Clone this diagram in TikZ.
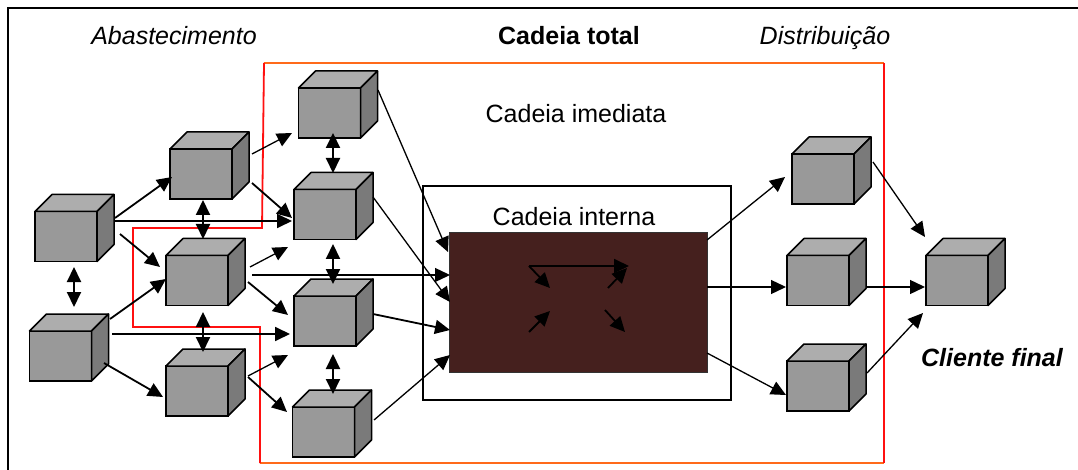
\documentclass[tikz,border=0pt]{standalone}
\usepackage{fontspec}
\setmainfont{Liberation Sans}
\usetikzlibrary{arrows.meta}

\definecolor{cubefront}{HTML}{999999}
\definecolor{cubetop}{HTML}{ADADAD}
\definecolor{cubeside}{HTML}{7A7A7A}
\definecolor{coreBrown}{HTML}{45201E}
\definecolor{totalRed}{HTML}{FF1010}
\definecolor{totalOrange}{HTML}{FF6A1A}

\tikzset{
  cube/.style={rectangle, draw=black, line width=1.5pt, fill=cubefront,
    minimum width=62pt, minimum height=50pt, inner sep=0pt, outer sep=0pt},
  face/.style={draw=black, line width=1.5pt, line join=round},
  tip/.tip={Triangle[length=15pt,width=14pt]},
  arr/.style={line width=1.8pt, -tip},
  tarr/.style={line width=1.3pt, -tip},
  darr/.style={line width=2pt, tip-tip},
  lbl/.style={anchor=base, inner sep=0pt, font=\fontsize{25}{30}\selectfont},
}

\begin{document}
\begin{tikzpicture}[x=1pt,y=-1pt]
\useasboundingbox (0,0) rectangle (1078,470);

% frame (top and left edges)
\draw[line width=1.5pt] (8,470) -- (8,8) -- (1078,8);

% headings
\node[lbl, font=\fontsize{25}{30}\selectfont\itshape] (tAbast) at (174,45) {Abastecimento};
\node[lbl, font=\fontsize{25}{30}\selectfont\bfseries] (tTotal) at (569,45) {Cadeia total};
\node[lbl, font=\fontsize{25}{30}\selectfont\itshape] (tDist) at (825,45) {Distribuição};
\node[lbl] (tImed) at (576,123) {Cadeia imediata};
\node[lbl, font=\fontsize{25}{30}\selectfont\bfseries\itshape] (tCliente) at (992,366) {Cliente final};

% outline of the total chain
\draw[totalOrange, line width=1.8pt] (264,63) -- (884,63);
\draw[totalOrange, line width=1.8pt] (260,463) -- (884,463);
\draw[totalRed, line width=1.8pt, line join=miter]
  (264,63) -- (262,228) -- (133,228) -- (133,327) -- (260,327) -- (260,463);
\draw[totalRed, line width=1.8pt] (884,63) -- (884,463);

% internal chain box
\draw[line width=1.5pt, fill=white] (423,186) rectangle (731,400);
\node[lbl] (tInt) at (574,226) {Cadeia interna};
\node[rectangle, fill=coreBrown, draw=black!80, line width=1pt,
      minimum width=258pt, minimum height=139pt, inner sep=0pt, outer sep=0pt]
      (core) at (578,302.5) {};

% cubes (front faces)
\node[cube] (A) at (66,236.5) {};
\node[cube] (B) at (60.5,356) {};
\node[cube] (C) at (201,174) {};
\node[cube] (D) at (197,280.5) {};
\node[cube] (E) at (197,391) {};
\node[cube] (F) at (329.5,113) {};
\node[cube] (G) at (325,214.5) {};
\node[cube] (H) at (325,321) {};
\node[cube] (I) at (323.5,432) {};
\node[cube] (J) at (823,179) {};
\node[cube] (K) at (818,280.5) {};
\node[cube] (L) at (818,386) {};
\node[cube] (M) at (957,280.5) {};

% cube top and side faces
\foreach \n in {A,B,C,D,E,F,G,H,I,J,K,L,M} {
  \filldraw[face, fill=cubetop] (\n.north west) -- ([shift={(17,-17)}]\n.north west)
    -- ([shift={(17,-17)}]\n.north east) -- (\n.north east) -- cycle;
  \filldraw[face, fill=cubeside] (\n.north east) -- ([shift={(17,-17)}]\n.north east)
    -- ([shift={(17,-17)}]\n.south east) -- (\n.south east) -- cycle;
}

% supply side links
\draw[arr] ([shift={(49,-18.5)}]A.center) -- ([shift={(-29,3)}]C.center);
\draw[arr] ([shift={(49,-15.5)}]A.center) -- ([shift={(-33,6.5)}]G.center);
\draw[arr] ([shift={(54,-2.5)}]A.center) -- ([shift={(-37,-13.5)}]D.center);
\draw[darr] ([shift={(8,30.5)}]A.center) -- ([shift={(13.5,-49)}]B.center);
\draw[arr] ([shift={(49.5,-37)}]B.center) -- ([shift={(-31,-1.5)}]D.center);
\draw[arr] ([shift={(51.5,-22)}]B.center) -- ([shift={(-35,13)}]H.center);
\draw[arr] ([shift={(43.5,7)}]B.center) -- ([shift={(-34,6)}]E.center);
\draw[darr] ([shift={(2,26)}]C.center) -- ([shift={(6,-41.5)}]D.center);
\draw[darr] ([shift={(6,31.5)}]D.center) -- ([shift={(6,-39)}]E.center);
\draw[tarr] ([shift={(51,-20)}]C.center) -- ([shift={(-37.5,20)}]F.center);
\draw[arr] ([shift={(51,9)}]C.center) -- ([shift={(-33,3.5)}]G.center);
\draw[tarr] ([shift={(53,-13.5)}]D.center) -- ([shift={(-37,32.5)}]G.center);
\draw[tarr] ([shift={(55,-5.5)}]D.center) -- ([shift={(-128,-27.5)}]core.center);
\draw[arr] ([shift={(51,1.5)}]D.center) -- ([shift={(-37,-6)}]H.center);
\draw[tarr] ([shift={(51,-15)}]E.center) -- ([shift={(-37,34)}]H.center);
\draw[arr] ([shift={(51,-14)}]E.center) -- ([shift={(-36.5,-20)}]I.center);
\draw[darr] ([shift={(3.5,20)}]F.center) -- ([shift={(8,-41.5)}]G.center);
\draw[darr] ([shift={(8,29.5)}]G.center) -- ([shift={(8,-37)}]H.center);
\draw[darr] ([shift={(8,33)}]H.center) -- ([shift={(9.5,-38)}]I.center);

% links into the internal chain
\draw[tarr] ([shift={(48.5,-23)}]F.center) -- ([shift={(-130,-50.5)}]core.center);
\draw[tarr] ([shift={(48,-17.5)}]G.center) -- ([shift={(-128,-0.5)}]core.center);
\draw[arr] ([shift={(48,-7)}]H.center) -- ([shift={(-128,27.5)}]core.center);
\draw[tarr] ([shift={(50.5,-12)}]I.center) -- ([shift={(-128,52.5)}]core.center);

% flows inside the internal chain
\draw[arr] (529,266) -- (629,266);
\draw[arr] (529,266) -- (550,288);
\draw[arr] (529,332) -- (550,311);
\draw[arr] (605,310) -- (625,332);
\draw[arr] (608,288) -- (627,268);

% distribution side links
\draw[tarr] ([shift={(129,-62.5)}]core.center) -- ([shift={(-38,-2)}]J.center);
\draw[tarr] ([shift={(129,-15.5)}]core.center) -- ([shift={(-32,6.5)}]K.center);
\draw[tarr] ([shift={(129,50.5)}]core.center) -- ([shift={(-32,9)}]L.center);
\draw[tarr] ([shift={(50,-17)}]J.center) -- ([shift={(-32,-43.5)}]M.center);
\draw[tarr] ([shift={(48,6.5)}]K.center) -- ([shift={(-32,6.5)}]M.center);
\draw[tarr] ([shift={(49,-13)}]L.center) -- ([shift={(-34,32.5)}]M.center);
\end{tikzpicture}
\end{document}
